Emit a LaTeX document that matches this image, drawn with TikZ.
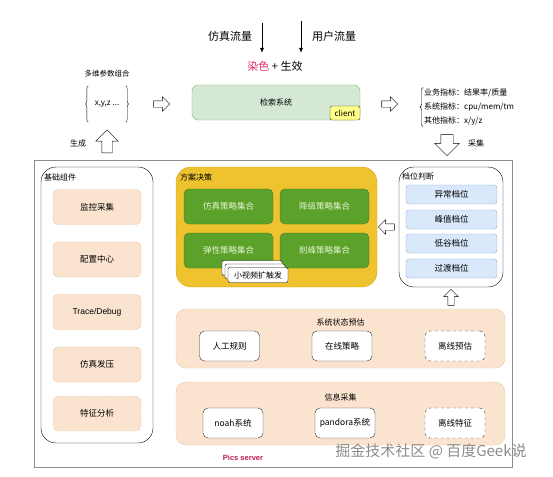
\documentclass[tikz,border=0pt]{standalone}
\usepackage{fontspec}
\setmainfont{Noto Sans CJK SC}
\newfontfamily\latinsans{Liberation Sans}
\usetikzlibrary{shapes.arrows,arrows.meta,decorations.pathreplacing}
\definecolor{peach}{HTML}{FBE4CF}
\definecolor{peachline}{HTML}{E8C7A5}
\definecolor{mint}{HTML}{D5E8D4}
\definecolor{mintline}{HTML}{82B366}
\definecolor{gold}{HTML}{EFC22F}
\definecolor{goldline}{HTML}{D9A81C}
\definecolor{leaf}{HTML}{5BA12A}
\definecolor{leafline}{HTML}{3E7E18}
\definecolor{leaftext}{HTML}{E4F5D2}
\definecolor{sky}{HTML}{DAE8FC}
\definecolor{skyline}{HTML}{8FAAD0}
\definecolor{lemon}{HTML}{FFFF88}
\definecolor{dyered}{HTML}{E2306A}
\definecolor{serverred}{HTML}{B81B52}
\begin{document}
\begin{tikzpicture}[x=1pt,y=-1pt,
    every node/.style={font=\fontsize{8}{10}\selectfont},
    boxfont/.style={font=\fontsize{8.5}{10}\selectfont},
    softbox/.style={boxfont,draw=peachline,fill=peach,rounded corners=5pt,minimum width=88,minimum height=35},
    groupbox/.style={draw=black,fill=white,rounded corners=15pt},
    areabox/.style={draw=peachline,fill=peach,rounded corners=10pt},
    planbox/.style={boxfont,draw=leafline,fill=leaf,text=leaftext,rounded corners=5pt,minimum width=89,minimum height=35},
    gearbox/.style={boxfont,draw=skyline,fill=sky,rounded corners=3pt,minimum width=91,minimum height=19},
    itembox/.style={boxfont,draw=black!80,fill=white,rounded corners=5pt,minimum width=60,minimum height=30},
    stackbox/.style={draw=black,fill=white,rounded corners=2pt,minimum width=60,minimum height=15,inner sep=1pt},
    grouplabel/.style={anchor=north west,inner sep=1pt},
    hollow/.style={single arrow,draw,fill=white,inner sep=3pt,single arrow head extend=4pt,single arrow head indent=0pt,minimum height=16},
    curly/.style={decorate,decoration={brace,amplitude=3pt}},
    flow/.style={-{Latex[length=5pt,width=4pt]},thick}]
\useasboundingbox (0,0) rectangle (553,476);

% traffic on top
\node[font=\fontsize{11}{12}\selectfont] (simtraffic) at (230,36) {仿真流量};
\node[font=\fontsize{11}{12}\selectfont] (usertraffic) at (334,36) {用户流量};
\node[font=\fontsize{11}{12}\selectfont] (dye) at (275,66) {{\color{dyered}染色} + 生效};
\coordinate (simtop) at (262,23);
\coordinate (simend) at (262,53);
\coordinate (usertop) at (301,21);
\coordinate (userend) at (301,53);
\draw[flow] (simtop) -- (simend);
\draw[flow] (usertop) -- (userend);

% parameters, search system, metrics
\node[font=\fontsize{7.5}{9}\selectfont] (paramtitle) at (107,74) {多维参数组合};
\node[minimum width=37,minimum height=36,inner sep=0pt] (params) at (107,104) {x,y,z ...};
\draw[curly] (params.south west) -- (params.north west);
\draw[curly] (params.north east) -- (params.south east);
\node[hollow] (toSearch) at (160,104) {};
\node[draw=mintline,fill=mint,rounded corners=6pt,minimum width=168,minimum height=35] (search) at (276,102.5) {检索系统};
\node[draw=black!80,fill=lemon,rounded corners=2pt,minimum width=30,minimum height=14,inner sep=0pt,anchor=south east] (client) at (search.south east) {client};
\node[hollow] (toMetrics) at (388,104) {};
\node[anchor=west,align=left,inner sep=1pt,font=\fontsize{8}{14}\selectfont] (metrics) at (423,107) {业务指标：结果率/质量\\系统指标：cpu/mem/tm\\其他指标：x/y/z};
\draw[curly] (metrics.south west) -- (metrics.north west);
\node[hollow,shape border rotate=270,inner sep=6pt,single arrow head extend=6pt,minimum height=21] (collect) at (447,142) {};
\node (collectlabel) at (476,143) {采集};
\node[hollow,shape border rotate=90,inner sep=5pt,single arrow head extend=6pt,minimum height=23] (generate) at (107,144) {};
\node (generatelabel) at (78,143) {生成};

% Pics server
\node[draw=black!45,line width=1pt,minimum width=478,minimum height=307] (server) at (273,313.5) {};
\node[text=serverred,font=\latinsans\bfseries\fontsize{7.5}{9}\selectfont] (serverlabel) at (243,458) {Pics server};

% base components
\node[groupbox,minimum width=112,minimum height=276] (base) at (97,305) {};
\node[grouplabel] (baselabel) at ([shift={(2,6)}]base.north west) {基础组件};
\node[softbox] (monitor) at (97,207) {监控采集};
\node[softbox] (config) at (97,259.5) {配置中心};
\node[softbox,font=\latinsans\fontsize{8.5}{10}\selectfont] (trace) at (97,312) {Trace/Debug};
\node[softbox] (press) at (97,364.5) {仿真发压};
\node[softbox,dashed] (feature) at (97,413.5) {特征分析};

% plan decision
\node[draw=goldline,fill=gold,rounded corners=15pt,minimum width=201,minimum height=120] (plan) at (276.5,227) {};
\node[grouplabel] (planlabel) at ([shift={(3,6)}]plan.north west) {方案决策};
\node[planbox] (simplan) at (228.5,206.5) {仿真策略集合};
\node[planbox] (degrade) at (324.5,206.5) {降级策略集合};
\node[planbox] (elastic) at (228.5,250.5) {弹性策略集合};
\node[planbox] (peakcut) at (324.5,250.5) {削峰策略集合};
\node[stackbox] (stackback) at (252,268) {};
\node[stackbox] (stackmid) at (255,271.5) {};
\node[stackbox] (video) at (258,275) {小视频扩触发};
\node[hollow,shape border rotate=180] (toPlan) at (388,227) {};

% gear judgement
\node[groupbox,minimum width=104,minimum height=120] (gear) at (451,227) {};
\node[grouplabel] (gearlabel) at ([shift={(2,5)}]gear.north west) {档位判断};
\node[gearbox] (abnormal) at (451.5,194.5) {异常档位};
\node[gearbox] (peak) at (451.5,219.5) {峰值档位};
\node[gearbox] (valley) at (451.5,243.5) {低谷档位};
\node[gearbox] (transit) at (451.5,268.5) {过渡档位};
\node[hollow,shape border rotate=90] (toGear) at (451,299) {};

% state estimation
\node[areabox,minimum width=329,minimum height=59] (state) at (340.5,338.5) {};
\node (statelabel) at (340.5,322) {系统状态预估};
\node[itembox] (manual) at (229.5,346) {人工规则};
\node[itembox] (online) at (342,346) {在线策略};
\node[itembox,dashed] (offline) at (455,346) {离线预估};

% info collection
\node[areabox,minimum width=329,minimum height=63] (info) at (340.5,413.5) {};
\node (infolabel) at (340.5,397) {信息采集};
\node[itembox] (noah) at (233,423) {noah系统};
\node[itembox] (pandora) at (345,423) {pandora系统};
\node[itembox,dashed] (offfeat) at (455,423) {离线特征};

% watermark
\node[text=black!45,font=\fontsize{15}{16}\selectfont] (mark) at (431,451) {掘金技术社区 @ 百度Geek说};
\end{tikzpicture}
\end{document}
